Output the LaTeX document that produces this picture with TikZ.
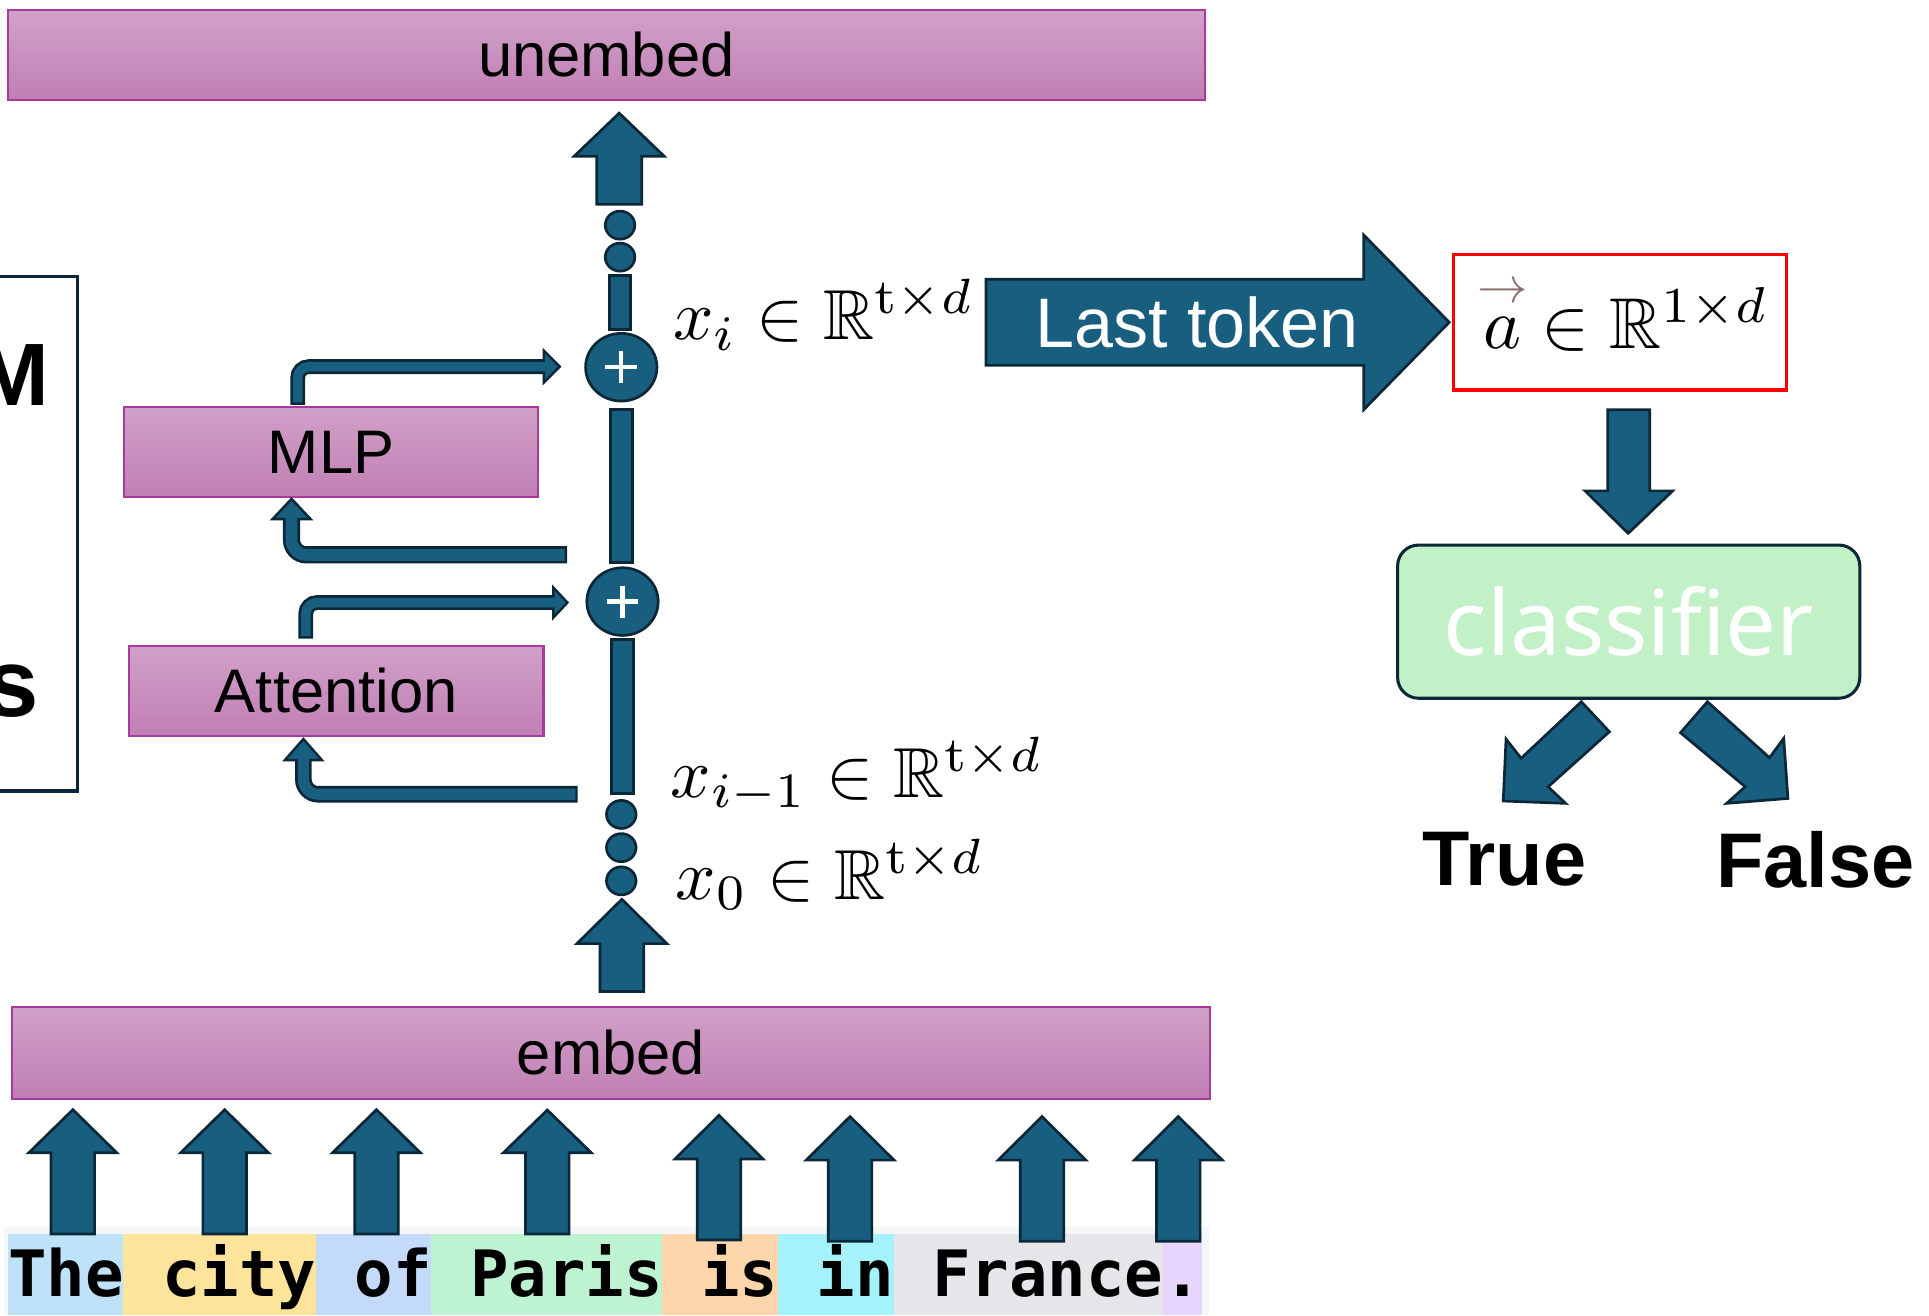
\documentclass[tikz,border=0pt]{standalone}
\usepackage{amsmath}
\usepackage{amssymb}
\usepackage{graphicx}
\usepackage[no-math]{fontspec}
\setmainfont{Liberation Sans}
\newfontfamily\tokfont{DejaVu Sans Mono}
\newfontfamily\clsfont{Noto Sans}
\usetikzlibrary{shapes.geometric,calc}

\definecolor{resblue}{HTML}{185E7F}
\definecolor{resedge}{HTML}{0C2838}
\definecolor{boxtop}{HTML}{D1A1C9}
\definecolor{boxbot}{HTML}{C07FB3}
\definecolor{boxedge}{HTML}{A8399E}
\definecolor{clsfill}{HTML}{C2F0C7}
\definecolor{vecbrown}{HTML}{8A706C}
\definecolor{stripgray}{HTML}{F5F6F8}
\definecolor{tokA}{HTML}{BEE3F8}
\definecolor{tokB}{HTML}{FDE49B}
\definecolor{tokC}{HTML}{C3DAFB}
\definecolor{tokD}{HTML}{BDF3D1}
\definecolor{tokE}{HTML}{FDD7AB}
\definecolor{tokF}{HTML}{A6F2FA}
\definecolor{tokG}{HTML}{E4E6EA}
\definecolor{tokH}{HTML}{E8D5FE}

% math labels are set at 10pt and enlarged
\newcommand\mathlbl[1]{\scalebox{5.75}{$#1$}}

% upward block arrow: x, tip y, head base y, tail y, head half width, shaft half width
\newcommand\upblock[6]{%
  \draw[blk] (#1,#2) -- ({#1+#5},#3) -- ({#1+#6},#3) -- ({#1+#6},#4)
    -- ({#1-#6},#4) -- ({#1-#6},#3) -- ({#1-#5},#3) -- cycle;}

\begin{document}
\begin{tikzpicture}[x=1pt,y=-1pt,
  blk/.style={fill=resblue, draw=resedge, line width=2.2pt, line join=miter, miter limit=10},
  purplebox/.style={rectangle, draw=boxedge, line width=1.8pt, top color=boxtop,
    bottom color=boxbot, inner sep=0pt, font=\fontsize{50}{60}\selectfont, text=black},
  plusnode/.style={ellipse, blk, minimum width=58pt, minimum height=55pt, inner sep=0pt},
  dotnode/.style={ellipse, blk, minimum width=24pt, minimum height=22.8pt, inner sep=0pt},
  bentout/.style={draw=resedge, line width=12pt, rounded corners=9pt},
  bentin/.style={draw=resblue, line width=7.6pt, rounded corners=9pt},
  lbl/.style={anchor=base west, inner sep=0pt}
]
\useasboundingbox (0,0) rectangle (1568,1069);
\clip (0,0) rectangle (1568,1069);

% ---------- outer frame on the left ----------
\draw[resedge, line width=2.6pt] (-10,225) -- (63,225) -- (63,643) -- (-10,643);
\node[anchor=base east, inner sep=0pt, font=\bfseries\fontsize{72}{80}\selectfont] (frameM) at (40,330) {M};
\node[anchor=base east, inner sep=0pt, font=\bfseries\fontsize{78}{86}\selectfont] (frameS) at (32,582) {s};

% ---------- layer boxes ----------
\node[purplebox, minimum width=973pt, minimum height=73pt] (unembed) at (492.8,44.7) {unembed};
\node[purplebox, minimum width=974pt, minimum height=75pt] (embed) at (496.6,855.9) {embed};
\node[purplebox, minimum width=336.7pt, minimum height=73.4pt] (mlp) at (269.2,367.3) {MLP};
\node[purplebox, minimum width=336.7pt, minimum height=73.2pt] (attn) at (273.4,561.4) {Attention};

% ---------- residual stream ----------
\upblock{503.3}{92}{127}{166}{36.6}{18.3}
\node[dotnode] (dotA) at (504,183) {};
\node[dotnode] (dotB) at (504,209) {};
\draw[blk] (495.5,224) rectangle (512.5,268);
\node[plusnode] (add1) at (505,298.5) {};
\draw[blk] (496,333) rectangle (514,457);
\node[plusnode] (add2) at (506,489) {};
\draw[blk] (497,520) rectangle (515,645);
\node[dotnode] (dotC) at (505,662) {};
\node[dotnode] (dotD) at (505,689) {};
\node[dotnode] (dotE) at (505,716) {};
\upblock{505.5}{731}{767}{806}{36.5}{17.8}

\foreach \n in {add1,add2}{
  \draw[white, line width=3.6pt] ($(\n)+(-13,0)$) -- ($(\n)+(13,0)$);
  \draw[white, line width=3.6pt] ($(\n)+(0,-13)$) -- ($(\n)+(0,13)$);
}

% ---------- branch arrows into and out of the sublayers ----------
% MLP -> add1
\coordinate (mlpOut) at (242,329);
\draw[bentout] (mlpOut) |- (443,298);
\draw[blk, line width=2pt] (442,285) -- (455,298) -- (442,311) -- cycle;
\draw[bentin] ($(mlpOut)+(0,-2)$) |- (447,298);
% stream -> MLP
\coordinate (mlpIn) at (461,451);
\draw[bentout, line width=14pt, rounded corners=12pt] (mlpIn) -| (237,421);
\draw[blk, line width=2pt] (221.5,422) -- (237,405.5) -- (252.5,422) -- cycle;
\draw[bentin, line width=9.6pt, rounded corners=12pt] ($(mlpIn)+(-2,0)$) -| (237,418);
% Attention -> add2
\coordinate (attnOut) at (248.6,519);
\draw[bentout] (attnOut) |- (451,489.8);
\draw[blk, line width=2pt] (449.8,477.6) -- (461.2,489.8) -- (449.8,502) -- cycle;
\draw[bentin] ($(attnOut)+(0,-2)$) |- (455,489.8);
% stream -> Attention
\coordinate (attnIn) at (469.6,645.6);
\draw[bentout, line width=13.5pt, rounded corners=12pt] (attnIn) -| (246.6,617);
\draw[blk, line width=2pt] (231.6,617.8) -- (246.6,600.7) -- (261.6,617.8) -- cycle;
\draw[bentin, line width=9pt, rounded corners=12pt] ($(attnIn)+(-2,0)$) -| (246.6,614);

% ---------- hidden state labels ----------
\node[lbl] (xi) at (547,276) {\mathlbl{x_i\in\mathbb{R}^{\mathrm{t}\times d}}};
\node[lbl] (xim) at (545,648) {\mathlbl{x_{i-1}\in\mathbb{R}^{\mathrm{t}\times d}}};
\node[lbl] (xz) at (549,731) {\mathlbl{x_0\in\mathbb{R}^{\mathrm{t}\times d}}};

% ---------- probe on the last token ----------
\draw[blk] (801.5,227) -- (1108.5,227) -- (1108.5,191) -- (1178,262) -- (1108.5,333)
  -- (1108.5,297) -- (801.5,297) -- cycle;
\node[text=white, inner sep=0pt, font=\fontsize{57}{64}\selectfont] (lasttok) at (973,262) {Last token};

\node[draw=red, line width=2.7pt, minimum width=270.8pt, minimum height=110pt, inner sep=0pt] (avec) at (1316.9,262) {};
\node[lbl] (alabel) at (1206,283) {\scalebox{5.85}{$\overset{\makebox[0pt]{\scalebox{0.7}{\textcolor{vecbrown}{$\rightarrow$}}}}{a}\in\mathbb{R}^{1\times d}$}};

\draw[blk] (1323.5,433.5) -- (1359.6,399) -- (1341,399) -- (1341,333) -- (1306.8,333)
  -- (1306.8,399) -- (1288.4,399) -- cycle;

\node[draw=resedge, line width=2.5pt, fill=clsfill, rounded corners=17pt,
  minimum width=375.7pt, minimum height=124.5pt, inner sep=0pt, text=white,
  font=\clsfont\fontsize{73.5}{80}\selectfont] (cls) at (1323.9,505.3) {classifier};

\draw[blk] (1221.9,651.1) -- (1224.2,600.7) -- (1236.4,616.4) -- (1285.4,570.4)
  -- (1308.2,594.8) -- (1258.4,639.5) -- (1272.6,653) -- cycle;
\draw[blk] (1387.9,570.4) -- (1438.3,615.9) -- (1449.9,600.2) -- (1453.3,649)
  -- (1403.5,653) -- (1418.6,639.5) -- (1366,595.6) -- cycle;

\node[lbl, font=\bfseries\fontsize{63}{70}\selectfont] (true) at (1156,719.5) {True};
\node[lbl, font=\bfseries\fontsize{63}{70}\selectfont] (false) at (1395,721.5) {False};

% ---------- input tokens ----------
\fill[stripgray] (3,997) rectangle (983,1069);
\fill[tokA] (6.4,1003) rectangle (100.3,1069);
\fill[tokB] (100.3,1003) rectangle (256.8,1069);
\fill[tokC] (256.8,1003) rectangle (350.7,1069);
\fill[tokD] (350.7,1003) rectangle (538.5,1069);
\fill[tokE] (538.5,1003) rectangle (632.4,1069);
\fill[tokF] (632.4,1003) rectangle (726.3,1069);
\fill[tokG] (726.3,1003) rectangle (945.4,1069);
\fill[tokH] (945.4,1003) rectangle (976.7,1069);
\node[lbl, font=\tokfont\bfseries\fontsize{52}{60}\selectfont] (sentence) at (6.4,1054) {The city of Paris is in France.};

\upblock{59.2}{902}{937}{1003}{35.7}{17.7}
\upblock{182.6}{902}{937}{1003}{35.7}{17.7}
\upblock{306}{902}{937}{1003}{35.7}{17.7}
\upblock{444.9}{902.3}{937}{1003}{35.7}{17.7}
\upblock{584.4}{906.6}{942}{1008}{35.7}{17.7}
\upblock{691}{907.6}{943}{1009}{35.7}{17.7}
\upblock{847}{907.6}{943}{1009}{35.7}{17.7}
\upblock{957.8}{907.6}{943}{1009}{35.7}{17.7}
\end{tikzpicture}
\end{document}
